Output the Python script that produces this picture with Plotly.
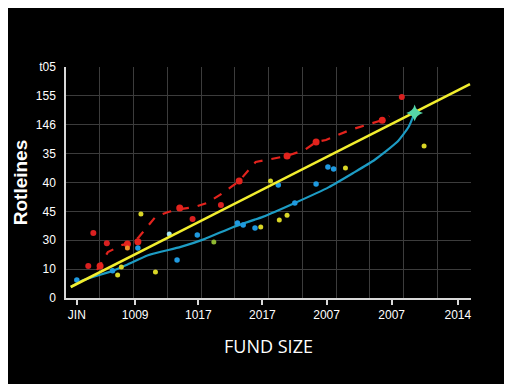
import plotly.graph_objects as go

# ---- data ----
x_tick_vals = [0.32, 2.05, 3.92, 5.82, 7.72, 9.65, 11.61]
x_tick_text = ["JIN", "1009", "1017", "2017", "2007", "2007", "2014"]
y_tick_vals = [0, 1, 2, 3, 4, 5, 6, 7, 8]
y_tick_text = ["0", "10", "30", "45", "40", "35", "146", "155", "t05"]

trend_x = [0.14, 11.97]
trend_y = [0.38, 7.41]

blue_line_x = [0.14, 0.52, 1.38, 1.79, 2.45, 3.40, 4.10, 4.96, 5.83, 6.78, 7.79, 8.51, 9.14, 9.81, 10.15, 10.33]
blue_line_y = [0.38, 0.62, 0.94, 1.14, 1.49, 1.77, 2.04, 2.46, 2.81, 3.29, 3.84, 4.33, 4.78, 5.40, 5.92, 6.41]

red_line_x = [0.92, 1.01, 1.24, 1.67, 1.96, 2.16, 2.65, 3.03, 3.37, 3.81, 4.18, 4.56, 5.13, 5.62, 6.20, 6.55, 7.07, 7.41, 7.70, 8.42, 9.37, 9.58]
red_line_y = [0.97, 1.14, 1.59, 1.84, 1.90, 2.11, 2.81, 2.98, 3.08, 3.15, 3.29, 3.57, 4.05, 4.71, 4.85, 4.92, 5.13, 5.40, 5.47, 5.82, 6.16, 6.30]

red_mark_x = [1.01, 1.82, 2.13, 3.37, 5.13, 6.55, 7.41, 9.37]
red_mark_y = [1.11, 1.87, 1.95, 3.12, 4.05, 4.92, 5.40, 6.16]

red_dot_x = [0.81, 0.66, 1.21, 3.75, 4.59, 9.95]
red_dot_y = [2.25, 1.11, 1.90, 2.74, 3.22, 6.96]

blue_dot_x = [0.32, 1.38, 2.13, 3.29, 3.89, 5.08, 5.25, 5.60, 6.29, 6.78, 7.41, 7.76, 7.93]
blue_dot_y = [0.62, 0.94, 1.73, 1.32, 2.18, 2.60, 2.53, 2.42, 3.91, 3.29, 3.95, 4.54, 4.47]

cyan_dot_x = [3.06]
cyan_dot_y = [2.22]

yellow_dot_x = [2.22, 1.64, 1.53, 2.65, 6.06, 5.77, 6.55, 6.32, 8.28, 10.61]
yellow_dot_y = [2.91, 1.07, 0.80, 0.90, 4.05, 2.46, 2.87, 2.70, 4.50, 5.26]

green_dot_x = [4.38]
green_dot_y = [1.94]

orange_dot_x = [1.82]
orange_dot_y = [1.73]

star_x = [10.33]
star_y = [6.41]

# ---- figure ----
fig = go.Figure()

fig.add_trace(go.Scatter(x=red_line_x, y=red_line_y, mode="lines",
                         line=dict(color="#e3231d", width=2.2, dash="dash")))
fig.add_trace(go.Scatter(x=red_mark_x, y=red_mark_y, mode="markers",
                         marker=dict(color="#e3231d", size=7)))
fig.add_trace(go.Scatter(x=red_dot_x, y=red_dot_y, mode="markers",
                         marker=dict(color="#d92020", size=6)))
fig.add_trace(go.Scatter(x=blue_line_x, y=blue_line_y, mode="lines",
                         line=dict(color="#1d9cc4", width=2.2, shape="spline", smoothing=0.5)))
fig.add_trace(go.Scatter(x=blue_dot_x, y=blue_dot_y, mode="markers",
                         marker=dict(color="#1f9ae0", size=5.5)))
fig.add_trace(go.Scatter(x=cyan_dot_x, y=cyan_dot_y, mode="markers",
                         marker=dict(color="#9fe0f0", size=5)))
fig.add_trace(go.Scatter(x=yellow_dot_x, y=yellow_dot_y, mode="markers",
                         marker=dict(color="#d9d626", size=5)))
fig.add_trace(go.Scatter(x=green_dot_x, y=green_dot_y, mode="markers",
                         marker=dict(color="#8fb832", size=5)))
fig.add_trace(go.Scatter(x=orange_dot_x, y=orange_dot_y, mode="markers",
                         marker=dict(color="#f0902a", size=5)))
fig.add_trace(go.Scatter(x=trend_x, y=trend_y, mode="lines",
                         line=dict(color="#f2ee2e", width=2.6)))
fig.add_trace(go.Scatter(x=star_x, y=star_y, mode="markers",
                         marker=dict(color="#55d6a8", size=12, symbol="star-diamond",
                                     line=dict(width=0))))

fig.update_layout(
    width=512, height=384,
    paper_bgcolor="black", plot_bgcolor="black",
    margin=dict(l=47, r=49, t=59, b=94),
    showlegend=False,
    font=dict(family="Liberation Sans, Arial, sans-serif", color="white", size=12),
)

fig.update_xaxes(
    range=[0, 12], tickvals=x_tick_vals, ticktext=x_tick_text,
    showgrid=False, zeroline=False,
    showline=True, linecolor="#d8d8d8", linewidth=1.5,
    ticks="outside", ticklen=5, tickcolor="#d8d8d8", tickwidth=1.5,
    tickfont=dict(size=12, color="white"),
    minor=dict(dtick=1, tick0=0, showgrid=True, gridcolor="#3c3c3c", gridwidth=1, ticks=""),
    title=dict(text="FUND SIZE", font=dict(size=18, color="white", family="Open Sans, sans-serif"),
               standoff=19),
)

fig.update_yaxes(
    range=[0, 8], tickvals=y_tick_vals, ticktext=y_tick_text,
    showgrid=True, gridcolor="#3c3c3c", gridwidth=1, zeroline=False,
    showline=True, linecolor="#d8d8d8", linewidth=1.5,
    ticks="", ticklabelstandoff=6,
    tickfont=dict(size=12, color="white"),
    title=dict(text="<b>Rotleines</b>", font=dict(size=19, color="white"), standoff=3),
)

fig.write_html("out.html")
